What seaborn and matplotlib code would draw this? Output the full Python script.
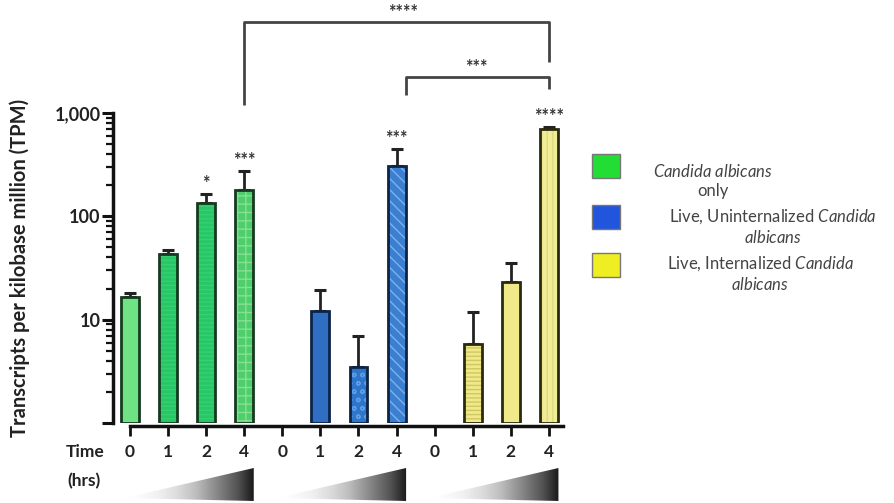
import numpy as np
import pandas as pd
import matplotlib
matplotlib.use("Agg")
import matplotlib.pyplot as plt
import seaborn as sns
from matplotlib.patches import Rectangle, Polygon

# ---------------- data ----------------
slots = ["C0", "C1", "C2", "C4", "U0", "U1", "U2", "U4", "I0", "I1", "I2", "I4"]
time_labels = ["0", "1", "2", "4", "0", "1", "2", "4", "0", "1", "2", "4"]
bar_slots = ["C0", "C1", "C2", "C4", "U1", "U2", "U4", "I1", "I2", "I4"]
tpm = [16.5, 43.0, 135.0, 178.0, 12.0, 3.5, 310.0, 5.8, 23.0, 700.0]
err_up = [1.8, 4.0, 30.0, 95.0, 7.5, 3.5, 140.0, 6.0, 12.0, 30.0]
stars = {"C2": "*", "C4": "***", "U4": "***", "I4": "****"}
legend_labels = [r"$\it{Candida\ albicans}$" + "\nonly",
                 r"Live, Uninternalized $\it{Candida}$" + "\n" + r"$\it{albicans}$",
                 r"Live, Internalized $\it{Candida}$" + "\n" + r"$\it{albicans}$"]
y_ticks = [1, 10, 100, 1000]
y_ticklabels = ["", "10", "100", "1,000"]

# ---------------- style ----------------
sns.set_style("ticks")
plt.rcParams["font.family"] = ["Lato", "DejaVu Sans"]
plt.rcParams["mathtext.fontset"] = "custom"
plt.rcParams["mathtext.rm"] = "Lato"
plt.rcParams["mathtext.it"] = "Lato:italic"
plt.rcParams["hatch.linewidth"] = 1.0

face = {"C0": "#6fe384", "C1": "#27c766", "C2": "#27c766", "C4": "#4fcf6c",
        "U1": "#2f6ec2", "U2": "#2f75cc", "U4": "#3b7fd0",
        "I1": "#efe98a", "I2": "#efe98a", "I4": "#f1ec96"}
hatch = {"C0": "", "C1": "----", "C2": "----", "C4": "++",
         "U1": "", "U2": "oo", "U4": "\\\\\\", "I1": "----", "I2": "", "I4": "|||"}
hatch_col = {"C0": "#6fe384", "C1": "#36cf72", "C2": "#36cf72", "C4": "#86e094",
             "U1": "#2f6ec2", "U2": "#5a9ee6", "U4": "#80b0ea",
             "I1": "#cfc862", "I2": "#efe98a", "I4": "#e0da80"}
edge = {"C": "#163a20", "U": "#0d2445", "I": "#2a2a10"}

fig = plt.figure(figsize=(8.95, 5.03), dpi=100)
W, H = 895, 503
ax_left, ax_right, ax_top, ax_bot = 113, 563, 113, 423
ax = fig.add_axes([ax_left / W, (H - ax_bot) / H, (ax_right - ax_left) / W, (ax_bot - ax_top) / H])

df = pd.DataFrame({"slot": bar_slots, "tpm": tpm})
sns.barplot(data=df, x="slot", y="tpm", hue="slot", order=slots,
            palette={s: face[s] for s in bar_slots}, legend=False,
            width=0.47, errorbar=None, ax=ax, saturation=1)
ax.set_yscale("log")

xlim = (-0.446, 11.37)
ybot = 1
ax.set_xlim(*xlim)
ax.set_ylim(ybot, 1000)

pos = {s: i for i, s in enumerate(slots)}
for p in list(ax.patches):
    cx = p.get_x() + p.get_width() / 2
    s = slots[int(round(cx))]
    top = p.get_y() + p.get_height()
    p.set_y(ybot)
    p.set_height(top - ybot)
    p.set_hatch(hatch[s])
    p.set_edgecolor(hatch_col[s])
    p.set_linewidth(0)
    r = Rectangle(p.get_xy(), p.get_width(), p.get_height(), fill=False,
                  edgecolor=edge[s[0]], linewidth=2, zorder=p.get_zorder() + 0.1)
    ax.add_patch(r)

# error bars (upper only)
xs = [pos[s] for s in bar_slots]
for x, y, e, s in zip(xs, tpm, err_up, bar_slots):
    ax.errorbar([x], [y], yerr=[[0], [e]], fmt="none", ecolor="#222222",
                elinewidth=2, capsize=4, capthick=2.2, zorder=0.5)

# stars above bars
for s, t in stars.items():
    i = bar_slots.index(s)
    top = tpm[i] + err_up[i]
    ax.text(pos[s], top * 1.05, t, ha="center", va="bottom", fontsize=13,
            fontweight="bold", color="#333333", clip_on=False)

# spines / ticks
sns.despine(ax=ax)
for sp in ["left", "bottom"]:
    ax.spines[sp].set_linewidth(2.5)
    ax.spines[sp].set_color("#111111")
ax.spines["bottom"].set_bounds(0, xlim[1])
ax.spines["bottom"].set_position(("outward", 2))
ax.set_yticks(y_ticks)
ax.set_yticklabels(y_ticklabels)
ax.yaxis.set_minor_locator(matplotlib.ticker.LogLocator(base=10, subs=np.arange(2, 10)))
ax.yaxis.set_minor_formatter(matplotlib.ticker.NullFormatter())
ax.tick_params(axis="y", which="major", length=8, width=2.2, labelsize=13, pad=1, colors="#111111")
ax.tick_params(axis="y", which="minor", length=5, width=1.6, colors="#111111")
ax.set_xticks(range(len(slots)))
ax.set_xticklabels(time_labels)
ax.tick_params(axis="x", length=7, width=2, labelsize=12.5, pad=6, colors="#111111")
for lab in ax.get_xticklabels() + ax.get_yticklabels():
    lab.set_fontweight("bold")
    lab.set_color("#222222")
ax.set_xlabel("")
ax.set_ylabel("")

fig.text(20 / W, 1 - 268 / H, "Transcripts per kilobase million (TPM)", rotation=90,
         ha="center", va="center", fontsize=14.5, fontweight="bold", color="#222222")
fig.text(85 / W, 1 - 452 / H, "Time", ha="center", va="center", fontsize=12.5,
         fontweight="bold", color="#222222")
fig.text(84 / W, 1 - 481 / H, "(hrs)", ha="center", va="center", fontsize=12.5,
         fontweight="bold", color="#222222")

# significance brackets (x in data coords, y in log data coords above axes)
bk = dict(color="#444444", lw=2, clip_on=False, solid_capstyle="butt")
ax.plot([pos["C4"], pos["C4"], pos["I4"], pos["I4"]], [1200, 7600, 7600, 3100], **bk)
ax.plot([pos["U4"] + 0.25, pos["U4"] + 0.25, pos["I4"], pos["I4"]], [1500, 2250, 2250, 1700], **bk)
ax.text(7.17, 7800, "****", ha="center", va="bottom", fontsize=13, fontweight="bold",
        color="#333333", clip_on=False)
ax.text(9.1, 2300, "***", ha="center", va="bottom", fontsize=13, fontweight="bold",
        color="#333333", clip_on=False)

# gradient triangles under each group
axb = fig.add_axes([ax_left / W, 0, (ax_right - ax_left) / W, 40 / H])
axb.set_xlim(*xlim)
axb.set_ylim(0, 40)
axb.axis("off")
grad = np.linspace(0, 1, 256)[None, :] ** 1.5
for g in range(3):
    x0, x1 = 4 * g - 0.15, 4 * g + 3.25
    im = axb.imshow(grad, extent=[x0, x1, 2, 36], cmap="Greys", vmin=0, vmax=1.1,
                    aspect="auto", interpolation="bilinear")
    tri = Polygon([[x0, 5], [x1, 35], [x1, 2]], closed=True, fc="none", ec="none")
    axb.add_patch(tri)
    im.set_clip_path(tri)

# legend drawn manually
leg_cols = ["#22dd33", "#2255dd", "#eeee22"]
leg_sq_y = [166, 217, 265]
leg_txt = [(713, 181), (773, 227), (760, 274)]
for c, yc, lab, (tx, ty) in zip(leg_cols, leg_sq_y, legend_labels, leg_txt):
    fig.patches.append(Rectangle(((592) / W, 1 - (yc + 12) / H), 28 / W, 24 / H,
                                 transform=fig.transFigure, facecolor=c,
                                 edgecolor="#777777", linewidth=1))
    fig.text(tx / W, 1 - ty / H, lab, ha="center", va="center", fontsize=12,
             color="#444444", linespacing=1.2, multialignment="center")

fig.savefig("out.png", dpi=100)
